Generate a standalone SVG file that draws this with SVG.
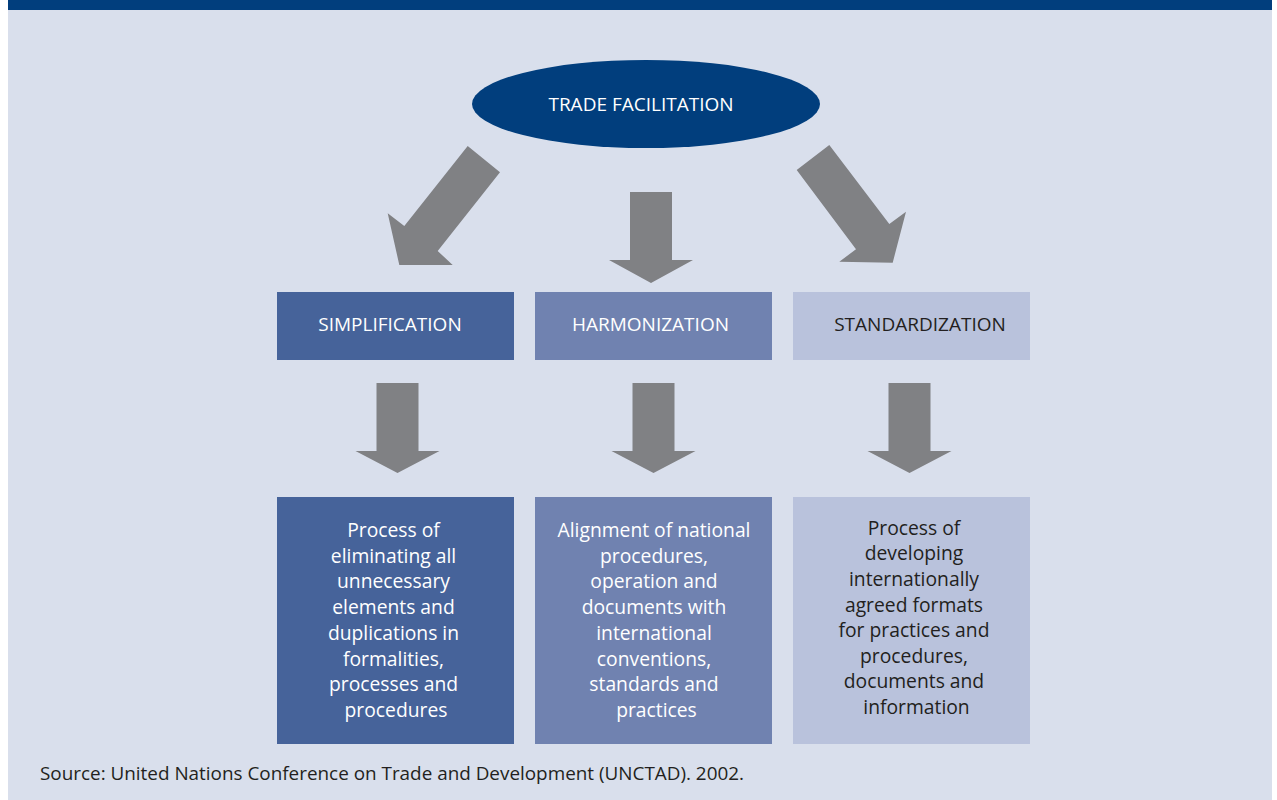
<svg xmlns="http://www.w3.org/2000/svg" width="1277" height="800" viewBox="0 0 1277 800">
  <style>
    .txt { font-family: "Open Sans", "Noto Sans", sans-serif; font-size: 19px; text-anchor: middle; }
    .body { font-size: 19.3px; }
    .light { fill: #ffffff; }
    .dark { fill: #231f20; }
    .arrow { fill: #808184; }
    .lvl1 { fill: #46639a; }
    .lvl2 { fill: #7082b0; }
    .lvl3 { fill: #b9c2dc; }
  </style>
  <defs>
    <!-- straight down arrow, origin at top-centre of the shaft -->
    <polygon id="downArrow" points="-21,0 21,0 21,68 42,68 0,90 -42,68 -21,68"/>
  </defs>

  <!-- page background and top band -->
  <rect x="0" y="0" width="1277" height="800" fill="#ffffff"/>
  <rect x="8" y="0" width="1264" height="800" fill="#d9dfec"/>
  <rect x="8" y="0" width="1264" height="10" fill="#013e7d"/>

  <g id="connectors" class="arrow">
    <polygon id="arrow-left" points="467.7,146 500,172.3 437.7,251 452.7,265 399.3,265 387.7,213.3 404.3,226"/>
    <polygon id="arrow-center" points="630,192 672,192 672,260 693,260 651,283 609,260 630,260"/>
    <polygon id="arrow-right" points="829.3,145 889.3,224 906,211.7 892.7,262.7 839.3,261.7 856,249.3 796.7,170"/>
    <use href="#downArrow" x="397.5" y="383"/>
    <use href="#downArrow" x="653.5" y="383"/>
    <use href="#downArrow" x="909.5" y="383"/>
  </g>

  <g id="trade-facilitation">
    <ellipse cx="646" cy="104" rx="174" ry="44" fill="#013e7d"/>
    <text class="txt light" x="641" y="111">TRADE FACILITATION</text>
  </g>

  <g id="simplification">
    <rect class="lvl1" x="277" y="292" width="237" height="68"/>
    <text class="txt light" x="390" y="331">SIMPLIFICATION</text>
  </g>
  <g id="harmonization">
    <rect class="lvl2" x="535" y="292" width="237" height="68"/>
    <text class="txt light" x="650.5" y="331">HARMONIZATION</text>
  </g>
  <g id="standardization">
    <rect class="lvl3" x="793" y="292" width="237" height="68"/>
    <text class="txt dark" x="920" y="331">STANDARDIZATION</text>
  </g>

  <g id="simplification-desc">
    <rect class="lvl1" x="277" y="497" width="237" height="247"/>
    <text class="txt body light" x="396">
      <tspan x="396" y="537">Process of</tspan>
      <tspan x="396" y="563">eliminating all</tspan>
      <tspan x="396" y="588">unnecessary</tspan>
      <tspan x="396" y="614">elements and</tspan>
      <tspan x="396" y="640">duplications in</tspan>
      <tspan x="396" y="666">formalities,</tspan>
      <tspan x="396" y="691">processes and</tspan>
      <tspan x="396" y="717">procedures</tspan>
    </text>
  </g>
  <g id="harmonization-desc">
    <rect class="lvl2" x="535" y="497" width="237" height="247"/>
    <text class="txt body light" x="656.5">
      <tspan x="656.5" y="537">Alignment of national</tspan>
      <tspan x="656.5" y="563">procedures,</tspan>
      <tspan x="656.5" y="588">operation and</tspan>
      <tspan x="656.5" y="614">documents with</tspan>
      <tspan x="656.5" y="640">international</tspan>
      <tspan x="656.5" y="666">conventions,</tspan>
      <tspan x="656.5" y="691">standards and</tspan>
      <tspan x="656.5" y="717">practices</tspan>
    </text>
  </g>
  <g id="standardization-desc">
    <rect class="lvl3" x="793" y="497" width="237" height="247"/>
    <text class="txt body dark" x="916.5">
      <tspan x="916.5" y="535">Process of</tspan>
      <tspan x="916.5" y="560">developing</tspan>
      <tspan x="916.5" y="586">internationally</tspan>
      <tspan x="916.5" y="612">agreed formats</tspan>
      <tspan x="916.5" y="637">for practices and</tspan>
      <tspan x="916.5" y="663">procedures,</tspan>
      <tspan x="916.5" y="688">documents and</tspan>
      <tspan x="916.5" y="714">information</tspan>
    </text>
  </g>

  <text id="source" x="40" y="780" font-family="'Open Sans', 'Noto Sans', sans-serif" font-size="18.5" fill="#231f20" textLength="704" lengthAdjust="spacingAndGlyphs">Source: United Nations Conference on Trade and Development (UNCTAD). 2002.</text>
</svg>
